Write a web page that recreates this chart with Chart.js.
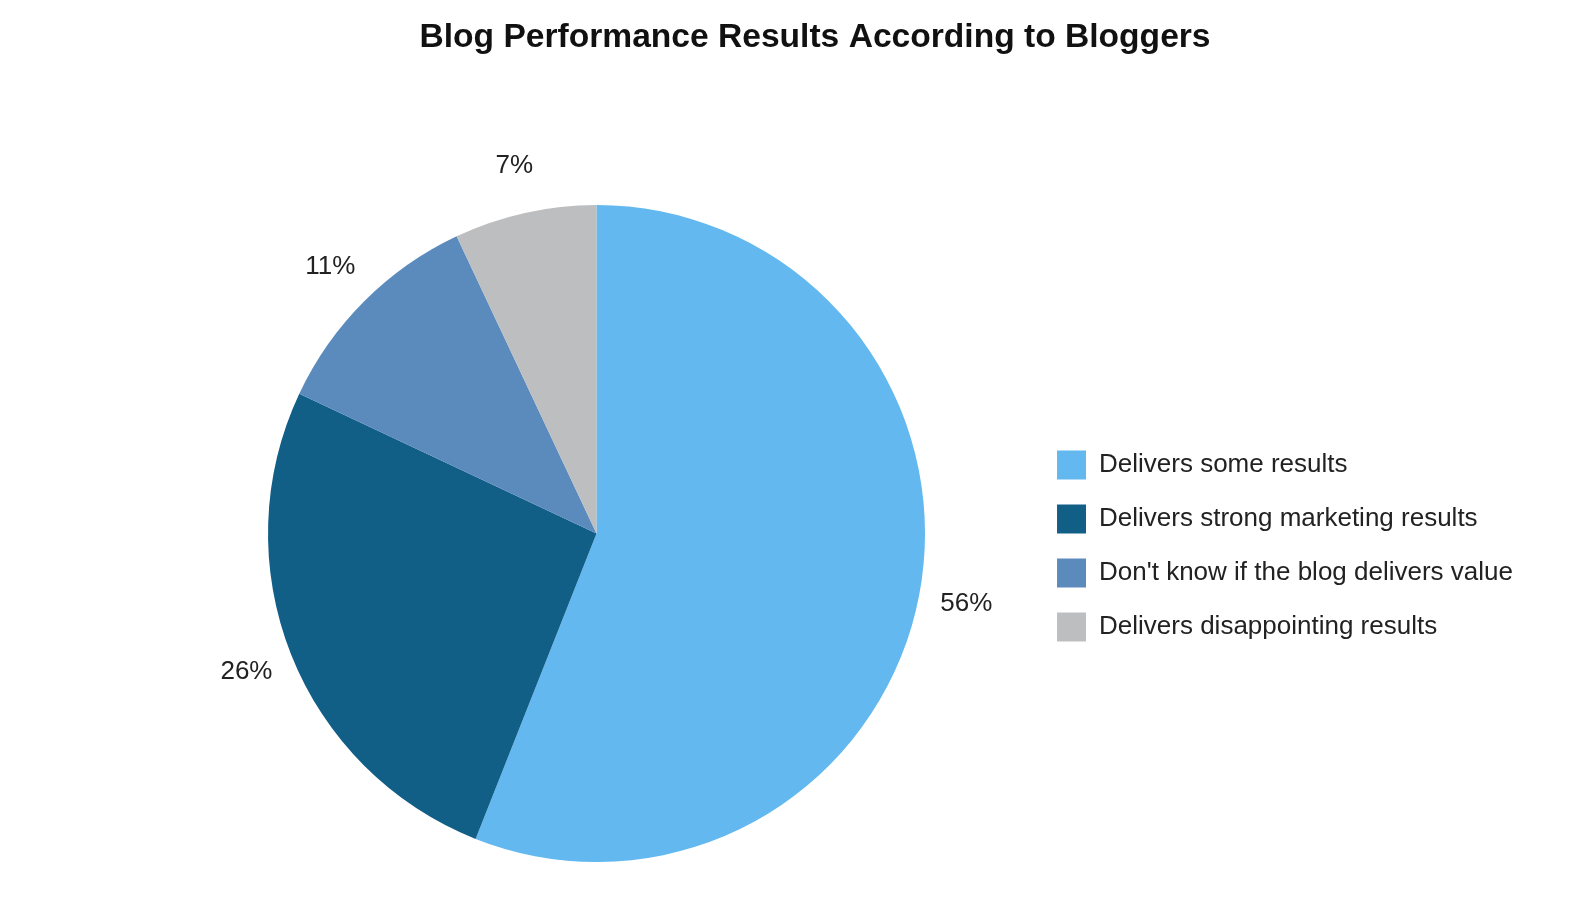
<!DOCTYPE html>
<html>
<head>
<meta charset="utf-8">
<script src="https://cdn.jsdelivr.net/npm/chart.js@4"></script>
<style>
  html, body { margin: 0; padding: 0; background: #ffffff; }
  #wrap { width: 1594px; height: 900px; }
</style>
</head>
<body>
<div id="wrap"><canvas id="blog_pie"></canvas></div>
<script>
var chartTitle = 'Blog Performance Results According to Bloggers';
var categories = [
	'Delivers some results',
	'Delivers strong marketing results',
	"Don't know if the blog delivers value",
	'Delivers disappointing results'
];
var shares = [56, 26, 11, 7];
var sliceColors = ['#62b8ef', '#115e87', '#5b8bbd', '#bdbec0'];

var FONT = "'Liberation Sans', Arial, sans-serif";

// title centred on the whole canvas, not on the padded box
var pageTitle = {
	id: 'pageTitle',
	afterDraw: function(chart) {
		var ctx = chart.ctx;
		ctx.save();
		ctx.font = 'bold 33.6px ' + FONT;
		ctx.fillStyle = '#111111';
		ctx.textAlign = 'center';
		ctx.textBaseline = 'middle';
		ctx.fillText(chartTitle, chart.width / 2 + 18, 38);
		ctx.restore();
	}
};

// percent labels just outside each slice
var outsideLabels = {
	id: 'outsideLabels',
	afterDatasetsDraw: function(chart) {
		var ctx = chart.ctx;
		var meta = chart.getDatasetMeta(0);
		ctx.save();
		ctx.font = '26px ' + FONT;
		ctx.fillStyle = '#222222';
		ctx.textAlign = 'center';
		ctx.textBaseline = 'middle';
		meta.data.forEach(function(arc, i) {
			var mid = (arc.startAngle + arc.endAngle) / 2;
			var r = arc.outerRadius + 48;
			ctx.fillText(shares[i] + '%', arc.x + Math.cos(mid) * r, arc.y + Math.sin(mid) * r);
		});
		ctx.restore();
	}
};

var pieChart = new Chart(document.getElementById('blog_pie'), {
	type: 'pie',
	data: {
		labels: categories,
		datasets: [{
			data: shares,
			backgroundColor: sliceColors,
			borderWidth: 0
		}]
	},
	options: {
		responsive: true,
		maintainAspectRatio: false,
		animation: false,
		layout: { padding: { left: 161, right: 71, top: 205, bottom: 38 } },
		plugins: {
			title: { display: false },
			legend: {
				position: 'right',
				align: 'center',
				fullSize: false,
				title: {
					display: true,
					text: ' ',
					font: { family: FONT, size: 10 },
					padding: { top: 0, bottom: 13 }
				},
				labels: {
					color: '#222222',
					font: { family: FONT, size: 26 },
					boxWidth: 29,
					boxHeight: 29,
					padding: 25
				}
			},
			tooltip: { enabled: false }
		}
	},
	plugins: [pageTitle, outsideLabels]
});
</script>
</body>
</html>
